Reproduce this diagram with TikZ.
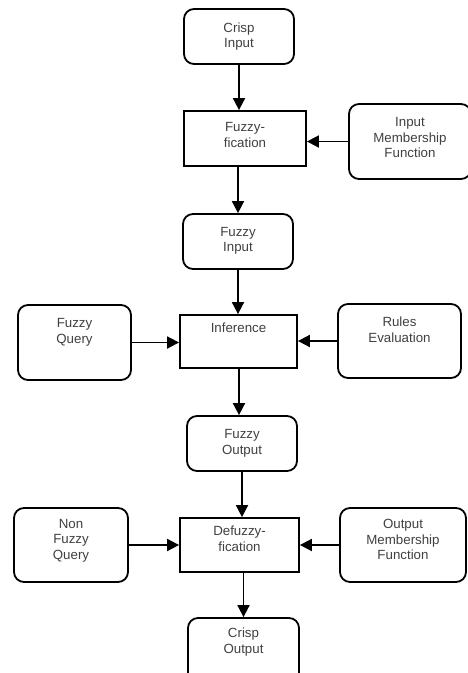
\documentclass[tikz,border=0pt]{standalone}
\usepackage{fontspec}
\setmainfont{Liberation Sans}
\usetikzlibrary{arrows.meta}

\begin{document}
\begin{tikzpicture}[x=1pt, y=-1pt, >={Triangle[length=12pt, width=12pt]}, line width=1.8pt,
    box/.style={draw, rounded corners=10pt, align=center, text=black!75,
      font=\fontsize{13.3}{15.5}\selectfont},
    stage/.style={box, sharp corners},
    lift/.style={text depth=#1}]
  \useasboundingbox (0,0) rectangle (468,673);

  % main column
  \node[box, minimum width=110pt, minimum height=55pt] (CI) at (239,36.5) {Crisp\\Input};
  \node[stage, minimum width=122pt, minimum height=55pt, lift=7.5pt] (FZ) at (245,138.5) {Fuzzy-\\fication};
  \node[box, minimum width=110pt, minimum height=55pt, lift=4.5pt] (FI) at (238,241.5) {Fuzzy\\Input};
  \node[stage, minimum width=117pt, minimum height=53pt, lift=28.5pt] (INF) at (238.5,341.5) {Inference};
  \node[box, minimum width=110pt, minimum height=55pt] (FO) at (242,443.5) {Fuzzy\\Output};
  \node[stage, minimum width=119pt, minimum height=54pt, lift=12.5pt] (DZ) at (239.5,545) {Defuzzy-\\fication};
  \node[box, minimum width=111pt, minimum height=66pt, lift=20.5pt] (CO) at (243.5,651) {Crisp\\Output};

  % side boxes
  \node[box, minimum width=122pt, minimum height=75pt, lift=7.5pt] (IMF) at (410,141.5) {Input\\Membership\\Function};
  \node[box, minimum width=113pt, minimum height=75pt, lift=23.5pt] (FQ) at (74.5,342.5) {Fuzzy\\Query};
  \node[box, minimum width=123pt, minimum height=74pt, lift=22.5pt] (RE) at (399.5,341) {Rules\\Evaluation};
  \node[box, minimum width=114pt, minimum height=74pt, lift=11.5pt] (NFQ) at (71,545) {Non\\Fuzzy\\Query};
  \node[box, minimum width=126pt, minimum height=74pt, lift=10.5pt] (OMF) at (403,545) {Output\\Membership\\Function};

  % flow
  \draw[->] (CI) -- (CI |- FZ.north);
  \draw[->] (FI |- FZ.south) -- (FI);
  \draw[->] (FI) -- (FI |- INF.north);
  \draw[->] (INF.south -| 239,0) -- (FO.north -| 239,0);
  \draw[->] (FO.south -| 242,0) -- (DZ.north -| 242,0);
  \draw[->] (CO |- DZ.south) -- (CO);

  \draw[->] (IMF) -- (IMF -| FZ.east);
  \draw[->] (FQ) -- (FQ -| INF.west);
  \draw[->] (RE) -- (RE -| INF.east);
  \draw[->] (NFQ) -- (NFQ -| DZ.west);
  \draw[->] (OMF) -- (OMF -| DZ.east);
\end{tikzpicture}
\end{document}
